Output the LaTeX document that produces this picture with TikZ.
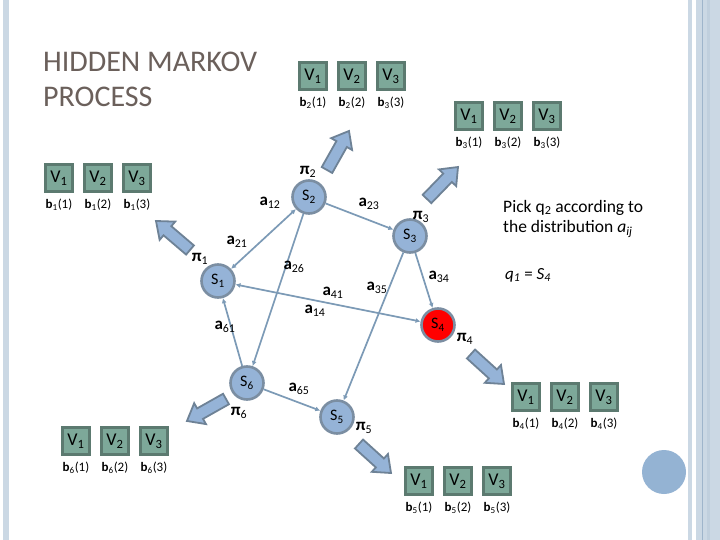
\documentclass[tikz,border=0pt]{standalone}
\usepackage{fontspec}
\setmainfont{Carlito}
\usetikzlibrary{calc,arrows.meta}
\definecolor{barblue}{HTML}{CBD8E4}
\definecolor{bardark}{HTML}{9FB5CB}
\definecolor{barmid}{HTML}{C0CFDD}
\definecolor{circblue}{HTML}{94B3D3}
\definecolor{stfill}{HTML}{95B3D7}
\definecolor{stborder}{HTML}{7B8EA2}
\definecolor{edgecol}{HTML}{7C9AB6}
\definecolor{boxfill}{HTML}{7DA899}
\definecolor{boxborder}{HTML}{5C7A70}
\definecolor{arrborder}{HTML}{6E8296}
\definecolor{titlecol}{HTML}{6B605B}
\newcommand\vgroup[6]{%
  \node[vbox] (#1a) at (#2,#3) {V\textsubscript{1}};
  \node[vbox] (#1b) at ({#2+39},#3) {V\textsubscript{2}};
  \node[vbox] (#1c) at ({#2+78},#3) {V\textsubscript{3}};
  \node[blab] (#1la) at (#2,{#3+27}) {\textbf{b}\textsubscript{#4}(1)};
  \node[blab] (#1lb) at ({#2+39},{#3+27}) {\textbf{b}\textsubscript{#5}(2)};
  \node[blab] (#1lc) at ({#2+78},{#3+27}) {\textbf{b}\textsubscript{#6}(3)};
}
\newcommand\fatarrow[2]{%
  \coordinate (fB) at ($(#2)!15pt!(#1)$);
  \filldraw[blockarr] ($(#1)!6pt!90:(#2)$) -- ($(fB)!6pt!-90:(#1)$) -- ($(fB)!12pt!-90:(#1)$)
    -- (#2) -- ($(fB)!12pt!90:(#1)$) -- ($(fB)!6pt!90:(#1)$) -- ($(#1)!6pt!-90:(#2)$) -- cycle;
}
\begin{document}
\begin{tikzpicture}[x=1pt,y=-1pt,
  state/.style={circle,minimum size=33pt,inner sep=0pt,fill=stfill,draw=stborder,line width=2.6pt,font=\fontsize{16}{16}\selectfont},
  redstate/.style={state,fill=red},
  vbox/.style={rectangle,minimum size=27pt,inner sep=0pt,fill=boxfill,draw=boxborder,line width=3pt,font=\fontsize{18}{18}\selectfont},
  blab/.style={inner sep=0pt,font=\fontsize{13}{13}\selectfont},
  lab/.style={inner sep=0pt,font=\fontsize{17}{17}\selectfont},
  edge/.style={draw=edgecol,line width=1.7pt},
  tip/.style={-{Latex[length=5pt,width=5pt]}},
  both/.style={{Latex[length=5pt,width=5pt]}-{Latex[length=5pt,width=5pt]}},
  blockarr/.style={fill=stfill,draw=arrborder,line width=1.8pt,line join=miter},
  txt/.style={inner sep=0pt,anchor=base west}
]
\useasboundingbox (0,0) rectangle (720,540);
\fill[white] (0,0) rectangle (720,540);
% side bars
\fill[barblue] (3,0) rectangle (9,540);
\fill[barblue] (688,0) rectangle (692,540);
\fill[barblue] (696,0) rectangle (720,540);
\fill[barmid] (707,0) rectangle (710,540);
\fill[bardark] (701.5,0) rectangle (702.8,540);
\fill[circblue] (664,472) circle[radius=22pt];
% title
\node[txt,text=titlecol,font=\fontsize{30}{30}\selectfont] (t1) at (43,72) {HIDDEN MARKOV};
\node[txt,text=titlecol,font=\fontsize{30}{30}\selectfont] (t2) at (43,107) {PROCESS};
% states
\node[state] (s1) at (218,281) {S\textsubscript{1}};
\node[state] (s2) at (309,197) {S\textsubscript{2}};
\node[state] (s3) at (410,236) {S\textsubscript{3}};
\node[redstate] (s4) at (438,325) {S\textsubscript{4}};
\node[state] (s5) at (337,417) {S\textsubscript{5}};
\node[state] (s6) at (247,383) {S\textsubscript{6}};
% transitions
\draw[edge,both] (s1) -- (s2);
\draw[edge,tip] (s2) -- (s3);
\draw[edge,tip] (s2) -- (s6);
\draw[edge,tip] (s3) -- (s4);
\draw[edge,tip] (s3) -- (s5);
\draw[edge,both] (s1) -- (s4);
\draw[edge,tip] (s6) -- (s1);
\draw[edge,tip] (s6) -- (s5);
% labels
\node[lab] (l12) at (270,203) {\textbf{a}\textsubscript{12}};
\node[lab] (l21) at (237,242) {\textbf{a}\textsubscript{21}};
\node[lab] (l26) at (294,267) {\textbf{a}\textsubscript{26}};
\node[lab] (l23) at (369,204) {\textbf{a}\textsubscript{23}};
\node[lab] (l34) at (439,277) {\textbf{a}\textsubscript{34}};
\node[lab] (l35) at (377,288) {\textbf{a}\textsubscript{35}};
\node[lab] (l41) at (333,293) {\textbf{a}\textsubscript{41}};
\node[lab] (l14) at (315,311) {\textbf{a}\textsubscript{14}};
\node[lab] (l61) at (225,327) {\textbf{a}\textsubscript{61}};
\node[lab] (l65) at (299,389) {\textbf{a}\textsubscript{65}};
\node[lab] (p1) at (200,259) {\textbf{π}\textsubscript{1}};
\node[lab] (p2) at (308,172) {\textbf{π}\textsubscript{2}};
\node[lab] (p3) at (421,217) {\textbf{π}\textsubscript{3}};
\node[lab] (p4) at (465,339) {\textbf{π}\textsubscript{4}};
\node[lab] (p5) at (364,428) {\textbf{π}\textsubscript{5}};
\node[lab] (p6) at (239,413) {\textbf{π}\textsubscript{6}};
% block arrows
\coordinate (a1t) at (190,250); \coordinate (a1h) at (156,221);
\coordinate (a2t) at (327,170); \coordinate (a2h) at (349,131);
\coordinate (a3t) at (427,199); \coordinate (a3h) at (458,167);
\coordinate (a4t) at (471,354); \coordinate (a4h) at (504,384);
\coordinate (a5t) at (359,444); \coordinate (a5h) at (391,473);
\coordinate (a6t) at (226,399); \coordinate (a6h) at (187,421);
\fatarrow{a1t}{a1h}
\fatarrow{a2t}{a2h}
\fatarrow{a3t}{a3h}
\fatarrow{a4t}{a4h}
\fatarrow{a5t}{a5h}
\fatarrow{a6t}{a6h}
% observation groups
\vgroup{g1}{59}{178}{1}{1}{1}
\vgroup{g2}{313}{76}{2}{2}{3}
\vgroup{g3}{469}{116}{3}{3}{3}
\vgroup{g4}{526}{397}{4}{4}{4}
\vgroup{g5}{419}{481}{5}{5}{5}
\vgroup{g6}{76}{441}{6}{6}{6}
% side text
\node[txt,font=\fontsize{17.5}{17.5}\selectfont] (pk1) at (503,212) {Pick q\textsubscript{2} according to};
\node[txt,font=\fontsize{17.5}{17.5}\selectfont] (pk2) at (503,233) {the distribution \textit{a}\textsubscript{\textit{ij}}};
\node[txt,font=\fontsize{17}{17}\selectfont] (q1) at (505,279) {\textit{q}\textsubscript{\textit{1}} = \textit{S}\textsubscript{\textit{4}}};
\end{tikzpicture}
\end{document}
